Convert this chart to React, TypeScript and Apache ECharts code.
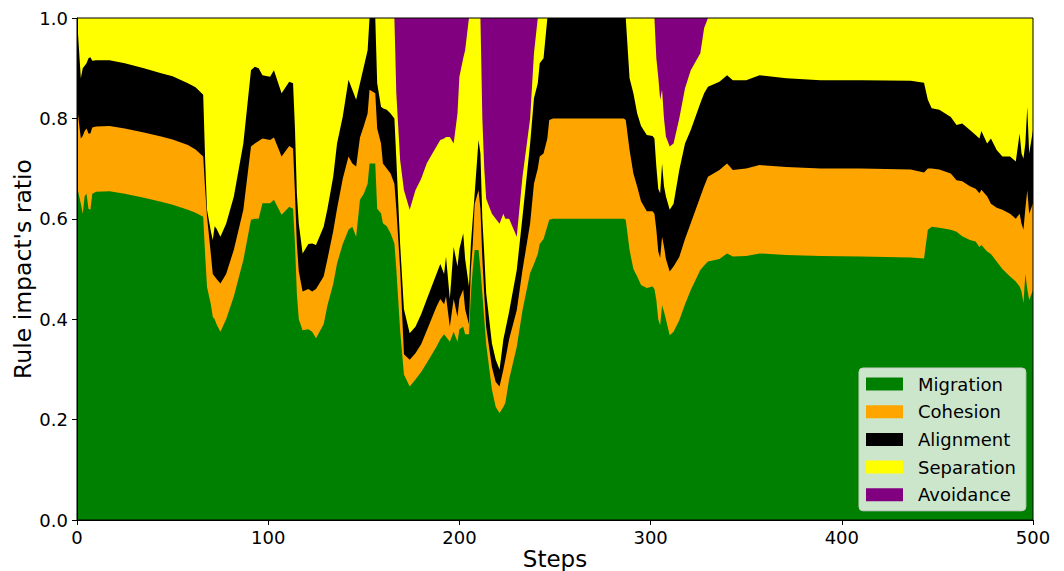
import React, { useEffect, useRef } from "react";
import * as echarts from "echarts";

const seriesNames = ["Migration", "Cohesion", "Alignment", "Separation", "Avoidance"];
const seriesColors = ["#008000", "#ffa500", "#000000", "#ffff00", "#800080"];

const steps = [
  0, 2, 3, 4, 5, 6, 7, 8, 10, 17,
  25, 35, 44, 50, 58, 62, 66, 67, 68, 70,
  71, 72, 73, 75, 78, 82, 87, 91, 93, 95,
  97, 101, 103, 107, 111, 113, 114, 115, 116, 118,
  121, 123, 125, 129, 131, 134, 136, 139, 142, 144,
  146, 148, 150, 152, 153, 156, 157, 159, 160, 162,
  164, 166, 167, 169, 171, 174, 177, 180, 183, 188,
  190, 192, 193, 195, 197, 199, 200, 202, 203, 205,
  206, 207, 208, 210, 211, 212, 213, 214, 217, 219,
  221, 223, 224, 226, 230, 233, 237, 239, 241, 242,
  244, 246, 247, 249, 286, 287, 289, 291, 293, 295,
  298, 301, 302, 303, 304, 305, 306, 307, 308, 310,
  312, 315, 318, 321, 326, 328, 330, 336, 340, 343,
  350, 357, 371, 389, 410, 436, 443, 445, 447, 451,
  457, 460, 463, 467, 470, 472, 473, 476, 478, 481,
  484, 488, 491, 493, 494, 495, 496, 497, 498, 500,
];

const migration = [
  0.665, 0.63, 0.61, 0.645, 0.65, 0.62, 0.618, 0.65, 0.654, 0.655,
  0.65, 0.642, 0.634, 0.628, 0.618, 0.612, 0.604, 0.53, 0.464, 0.43,
  0.405, 0.4, 0.39, 0.375, 0.4, 0.445, 0.518, 0.598, 0.6, 0.6,
  0.631, 0.631, 0.638, 0.608, 0.624, 0.62, 0.55, 0.45, 0.4, 0.378,
  0.38, 0.375, 0.362, 0.39, 0.428, 0.47, 0.511, 0.55, 0.578, 0.584,
  0.564, 0.638, 0.65, 0.67, 0.71, 0.71, 0.62, 0.611, 0.591, 0.585,
  0.571, 0.551, 0.5, 0.378, 0.29, 0.266, 0.28, 0.295, 0.313, 0.345,
  0.36, 0.37, 0.365, 0.355, 0.375, 0.355, 0.38, 0.385, 0.37, 0.37,
  0.45, 0.5, 0.538, 0.538, 0.5, 0.45, 0.4, 0.35, 0.26, 0.225,
  0.213, 0.225, 0.233, 0.28, 0.345, 0.418, 0.492, 0.51, 0.53, 0.55,
  0.56, 0.585, 0.598, 0.6, 0.6, 0.598, 0.538, 0.5, 0.485, 0.468,
  0.462, 0.465, 0.46, 0.438, 0.4, 0.388, 0.428, 0.415, 0.4, 0.368,
  0.375, 0.398, 0.43, 0.458, 0.498, 0.507, 0.515, 0.52, 0.531, 0.525,
  0.526, 0.531, 0.528, 0.526, 0.525, 0.523, 0.521, 0.578, 0.584, 0.582,
  0.578, 0.574, 0.565, 0.558, 0.555, 0.544, 0.548, 0.535, 0.53, 0.515,
  0.5, 0.485, 0.475, 0.465, 0.455, 0.432, 0.49, 0.46, 0.438, 0.458,
];

const cohesion = [
  0.16, 0.13, 0.155, 0.13, 0.13, 0.15, 0.152, 0.132, 0.13, 0.13,
  0.13, 0.13, 0.13, 0.13, 0.129, 0.126, 0.12, 0.13, 0.14, 0.1,
  0.085, 0.085, 0.09, 0.096, 0.09, 0.093, 0.1, 0.146, 0.15, 0.155,
  0.129, 0.126, 0.124, 0.116, 0.121, 0.12, 0.1, 0.1, 0.095, 0.077,
  0.08, 0.08, 0.098, 0.095, 0.092, 0.105, 0.109, 0.13, 0.146, 0.126,
  0.14, 0.124, 0.135, 0.14, 0.147, 0.14, 0.16, 0.139, 0.119, 0.115,
  0.119, 0.119, 0.12, 0.122, 0.04, 0.053, 0.052, 0.055, 0.065, 0.08,
  0.08, 0.06, 0.08, 0.03, 0.065, 0.05, 0.06, 0.074, 0.05, 0.02,
  0.05, 0.05, 0.092, 0.119, 0.12, 0.07, 0.05, 0.035, 0.045, 0.05,
  0.053, 0.075, 0.086, 0.08, 0.073, 0.08, 0.099, 0.16, 0.17, 0.174,
  0.17, 0.175, 0.199, 0.2, 0.2, 0.199, 0.199, 0.19, 0.179, 0.167,
  0.153, 0.15, 0.15, 0.14, 0.135, 0.134, 0.136, 0.13, 0.12, 0.127,
  0.13, 0.126, 0.13, 0.133, 0.146, 0.158, 0.169, 0.177, 0.179, 0.172,
  0.174, 0.176, 0.175, 0.174, 0.175, 0.175, 0.171, 0.122, 0.116, 0.116,
  0.112, 0.103, 0.11, 0.107, 0.105, 0.107, 0.11, 0.11, 0.1, 0.107,
  0.118, 0.125, 0.125, 0.145, 0.135, 0.146, 0.13, 0.197, 0.172, 0.173,
];

const alignment = [
  0.175, 0.12, 0.135, 0.13, 0.13, 0.15, 0.152, 0.133, 0.132, 0.131,
  0.13, 0.128, 0.126, 0.126, 0.123, 0.124, 0.123, 0.06, 0.014, 0.045,
  0.068, 0.1, 0.1, 0.093, 0.1, 0.106, 0.132, 0.152, 0.153, 0.145,
  0.126, 0.126, 0.134, 0.126, 0.128, 0.13, 0.13, 0.1, 0.095, 0.076,
  0.09, 0.096, 0.088, 0.099, 0.1, 0.109, 0.13, 0.124, 0.153, 0.147,
  0.133, 0.108, 0.118, 0.126, 0.143, 0.15, 0.09, 0.073, 0.11, 0.117,
  0.12, 0.13, 0.1, 0.05, 0.09, 0.053, 0.053, 0.06, 0.062, 0.065,
  0.07, 0.06, 0.08, 0.055, 0.104, 0.1, 0.1, 0.112, 0.1, 0.075,
  0.05, 0.05, 0.021, 0.1, 0.11, 0.08, 0.08, 0.067, 0.047, 0.044,
  0.034, 0.06, 0.059, 0.055, 0.08, 0.106, 0.159, 0.17, 0.17, 0.186,
  0.19, 0.24, 0.203, 0.2, 0.2, 0.203, 0.143, 0.16, 0.146, 0.15,
  0.152, 0.15, 0.15, 0.126, 0.125, 0.129, 0.146, 0.12, 0.125, 0.123,
  0.125, 0.173, 0.19, 0.186, 0.186, 0.185, 0.179, 0.176, 0.176, 0.179,
  0.176, 0.179, 0.177, 0.176, 0.176, 0.177, 0.179, 0.137, 0.12, 0.119,
  0.113, 0.11, 0.115, 0.112, 0.107, 0.109, 0.117, 0.105, 0.13, 0.115,
  0.106, 0.114, 0.114, 0.16, 0.14, 0.142, 0.13, 0.166, 0.12, 0.146,
];

const separation = [
  0, 0.12, 0.1, 0.095, 0.09, 0.08, 0.078, 0.085, 0.084, 0.084,
  0.09, 0.1, 0.11, 0.116, 0.13, 0.138, 0.153, 0.28, 0.382, 0.425,
  0.442, 0.415, 0.42, 0.436, 0.41, 0.356, 0.25, 0.104, 0.097, 0.1,
  0.114, 0.117, 0.104, 0.15, 0.127, 0.13, 0.22, 0.35, 0.41, 0.469,
  0.45, 0.449, 0.452, 0.416, 0.38, 0.316, 0.25, 0.196, 0.123, 0.143,
  0.163, 0.13, 0.097, 0.064, 0, 0, 0.13, 0.177, 0.18, 0.183,
  0.19, 0.2, 0.13, 0.167, 0.237, 0.246, 0.272, 0.27, 0.271, 0.254,
  0.247, 0.27, 0.238, 0.323, 0.206, 0.305, 0.343, 0.349, 0.416, 0.535,
  0.45, 0.4, 0.349, 0.243, 0.27, 0.2, 0.17, 0.188, 0.258, 0.281,
  0.29, 0.25, 0.222, 0.185, 0.066, 0.08, 0.05, 0.09, 0.13, 0.09,
  0.08, 0, 0, 0, 0, 0, 0.12, 0.15, 0.19, 0.215,
  0.233, 0.235, 0.24, 0.216, 0.223, 0.186, 0.147, 0.135, 0.119, 0.126,
  0.12, 0.103, 0.11, 0.119, 0.1, 0.13, 0.137, 0.127, 0.114, 0.124,
  0.124, 0.114, 0.12, 0.124, 0.124, 0.125, 0.129, 0.163, 0.18, 0.183,
  0.197, 0.213, 0.21, 0.223, 0.233, 0.24, 0.225, 0.25, 0.24, 0.263,
  0.276, 0.276, 0.286, 0.23, 0.27, 0.28, 0.25, 0.177, 0.27, 0.223,
];

const avoidance = [
  0, 0, 0, 0, 0, 0, 0, 0, 0, 0,
  0, 0, 0, 0, 0, 0, 0, 0, 0, 0,
  0, 0, 0, 0, 0, 0, 0, 0, 0, 0,
  0, 0, 0, 0, 0, 0, 0, 0, 0, 0,
  0, 0, 0, 0, 0, 0, 0, 0, 0, 0,
  0, 0, 0, 0, 0, 0, 0, 0, 0, 0,
  0, 0, 0.15, 0.283, 0.343, 0.382, 0.343, 0.32, 0.289, 0.256,
  0.243, 0.24, 0.237, 0.237, 0.25, 0.19, 0.117, 0.08, 0.064, 0,
  0, 0, 0, 0, 0, 0.2, 0.3, 0.36, 0.39, 0.4,
  0.41, 0.39, 0.4, 0.4, 0.436, 0.316, 0.2, 0.07, 0, 0,
  0, 0, 0, 0, 0, 0, 0, 0, 0, 0,
  0, 0, 0, 0.08, 0.117, 0.163, 0.143, 0.2, 0.236, 0.256,
  0.25, 0.2, 0.14, 0.104, 0.07, 0.02, 0, 0, 0, 0,
  0, 0, 0, 0, 0, 0, 0, 0, 0, 0,
  0, 0, 0, 0, 0, 0, 0, 0, 0, 0,
  0, 0, 0, 0, 0, 0, 0, 0, 0, 0,
];

const xTicks = [0, 100, 200, 300, 400, 500];
const yTicks = [0, 0.2, 0.4, 0.6, 0.8, 1.0];

const FONT = "DejaVu Sans";
const GRID = { left: 77, top: 18, width: 956, height: 502 };

export default function App() {
  const ref = useRef<HTMLDivElement>(null);

  useEffect(() => {
    if (!ref.current) return;
    const chart = echarts.init(ref.current, undefined, { renderer: "svg" });
    const values = [migration, cohesion, alignment, separation, avoidance];

    // Stack the shares (like matplotlib's stackplot): each band's top edge is the
    // running total; lower bands are drawn on top of the higher ones.
    const running = steps.map(() => 0);
    const series = values.map((vals, i) => {
      const data = steps.map((s, j) => {
        running[j] += vals[j];
        return [s, Math.min(1, running[j])];
      });
      return {
        name: seriesNames[i],
        type: "line",
        data,
        showSymbol: false,
        symbol: "none",
        silent: true,
        lineStyle: { width: 0, color: seriesColors[i] },
        itemStyle: { color: seriesColors[i] },
        areaStyle: { color: seriesColors[i], opacity: 1, origin: "start" },
        z: 2 + (values.length - i),
      };
    });

    const axisCommon = {
      axisLine: { show: true, lineStyle: { color: "#000", width: 1 } },
      axisTick: { show: true, length: 5, inside: false, lineStyle: { color: "#000", width: 1 } },
      splitLine: { show: false },
      nameMoveOverlap: false,
      z: 20,
    };

    chart.setOption({
      animation: false,
      backgroundColor: "#ffffff",
      grid: { ...GRID, containLabel: false, outerBoundsMode: "none" },
      graphic: [
        {
          type: "rect",
          z: 40,
          silent: true,
          shape: { x: GRID.left, y: GRID.top, width: GRID.width, height: GRID.height },
          style: { fill: "none", stroke: "#000", lineWidth: 1 },
        },
      ],
      legend: {
        data: seriesNames,
        orient: "vertical",
        left: 859,
        top: 368,
        icon: "rect",
        itemWidth: 37,
        itemHeight: 13,
        itemGap: 9.7,
        padding: [7, 10, 7, 7],
        backgroundColor: "rgba(255,255,255,0.8)",
        borderColor: "#cccccc",
        borderWidth: 1,
        borderRadius: 4,
        textStyle: { fontFamily: FONT, fontSize: 18, color: "#000", padding: [0, 0, 0, 10] },
        selectedMode: false,
        z: 30,
      },
      xAxis: {
        type: "value",
        min: xTicks[0],
        max: xTicks[xTicks.length - 1],
        interval: 100,
        name: "Steps",
        nameLocation: "middle",
        nameGap: 27,
        nameTextStyle: { fontFamily: FONT, fontSize: 23, color: "#000" },
        axisLabel: { fontFamily: FONT, fontSize: 18, color: "#000", margin: 8 },
        ...axisCommon,
      },
      yAxis: {
        type: "value",
        min: yTicks[0],
        max: yTicks[yTicks.length - 1],
        interval: 0.2,
        name: "Rule impact's ratio",
        nameLocation: "middle",
        nameGap: 42,
        nameTextStyle: { fontFamily: FONT, fontSize: 23.5, color: "#000" },
        axisLabel: {
          fontFamily: FONT,
          fontSize: 18,
          color: "#000",
          margin: 9,
          formatter: (v: number) => v.toFixed(1),
        },
        ...axisCommon,
      },
      series,
    });

    return () => chart.dispose();
  }, []);

  return (
    <div
      ref={ref}
      style={{ position: "absolute", left: 0, top: 0, width: 1064, height: 571 }}
    />
  );
}
